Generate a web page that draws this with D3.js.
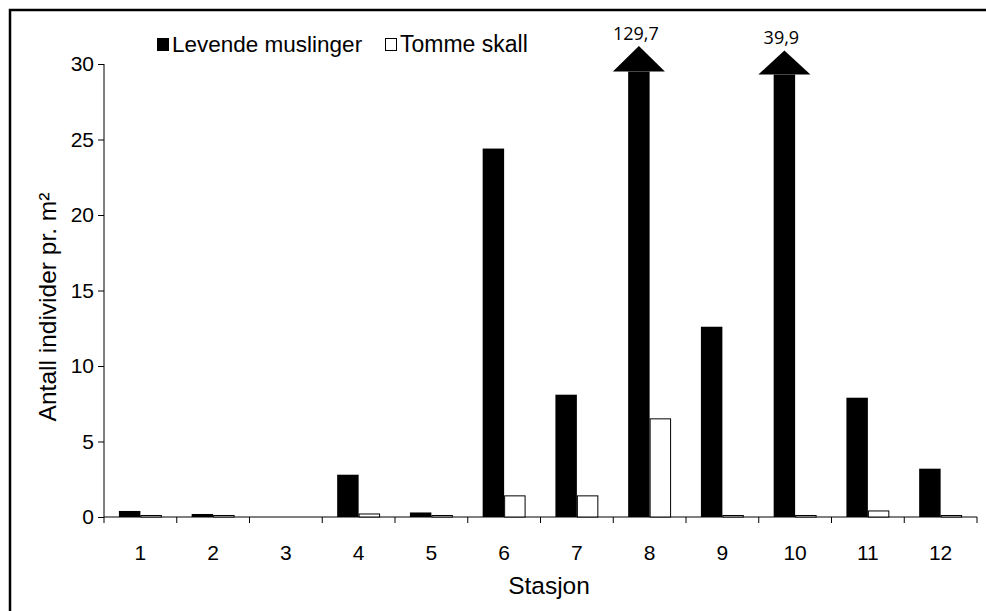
<!DOCTYPE html>
<html>
<head>
<meta charset="utf-8">
<script src="https://cdn.jsdelivr.net/npm/d3@7"></script>
<style>
  html, body { margin: 0; padding: 0; background: #fff; }
  svg { display: block; }
  .axis text { font-family: "Liberation Sans", Arial, sans-serif; font-size: 21px; fill: #000; }
  .axis path, .axis line { stroke: #000; stroke-width: 1px; }
</style>
</head>
<body>
<svg id="chart" width="986" height="611"></svg>
<script>
// ---- data ----
const stations = ["1","2","3","4","5","6","7","8","9","10","11","12"];
const levende = [0.4, 0.2, 0, 2.8, 0.3, 24.4, 8.1, 129.7, 12.6, 39.9, 7.9, 3.2];
const tomme   = [0.1, 0.1, 0, 0.2, 0.1, 1.4, 1.4, 6.5, 0.1, 0.1, 0.4, 0.1];
const seriesNames = ["Levende muslinger", "Tomme skall"];
const yTicks = [0, 5, 10, 15, 20, 25, 30];
const yMax = 30;
// arrow head (data units) for values beyond the axis
const arrowBase = [29.5, 29.3];
const arrowTip  = [31.2, 30.9];

const svg = d3.select("#chart");
const W = 986, H = 611;
const m = { left: 104, right: 9, top: 64, bottom: 94 };

// outer frame
svg.append("rect")
  .attr("x", 10).attr("y", 10).attr("width", 1000).attr("height", 700)
  .attr("fill", "none").attr("stroke", "#000").attr("stroke-width", 2.5);

const x0 = d3.scaleBand().domain(stations)
  .range([m.left, W - m.right]).paddingInner(0.41).paddingOuter(0.205);
const x1 = d3.scaleBand().domain([0, 1]).range([0, x0.bandwidth()]).padding(0);
const y = d3.scaleLinear().domain([0, yMax]).range([H - m.bottom, m.top]);

// y axis
const yAxis = svg.append("g").attr("class", "axis")
  .attr("transform", `translate(${m.left},0)`)
  .call(d3.axisLeft(y).tickValues(yTicks).tickSize(6).tickPadding(4).tickFormat(d3.format("d")));
yAxis.select(".domain").attr("d", `M0,${y(yMax)}V${y(0)}`);

// x axis with ticks at band boundaries
const xAxisG = svg.append("g").attr("class", "axis")
  .attr("transform", `translate(0,${y(0)})`);
xAxisG.append("line").attr("x1", x0.range()[0]).attr("x2", x0.range()[1])
  .attr("y1", 0).attr("y2", 0).attr("stroke", "#000");
const bounds = stations.map(s => x0(s) - x0.step() * x0.paddingOuter()).concat([x0.range()[1]]);
xAxisG.selectAll(".tk").data(bounds).enter().append("line")
  .attr("x1", d => d).attr("x2", d => d).attr("y1", 0).attr("y2", 6).attr("stroke", "#000");
xAxisG.selectAll(".lbl").data(stations).enter().append("text")
  .attr("x", d => x0(d) + x0.bandwidth() / 2).attr("y", 28).attr("dy", "0.71em")
  .attr("text-anchor", "middle").text(d => d);

// bars
const groups = svg.append("g");
let arrowIdx = 0;
stations.forEach((s, i) => {
  const v = levende[i];
  const bx = x0(s) + x1(0), bw = x1.bandwidth();
  if (v > yMax) {
    const k = arrowIdx++;
    const yb = y(arrowBase[k]), yt = y(arrowTip[k]);
    const cx = bx + bw / 2, hw = 26;
    groups.append("rect").attr("x", bx).attr("y", yb).attr("width", bw).attr("height", y(0) - yb).attr("fill", "#000");
    groups.append("path").attr("d", `M${cx - hw},${yb}L${cx},${yt}L${cx + hw},${yb}Z`).attr("fill", "#000");
    svg.append("text").attr("x", cx - 3).attr("y", yt - 6)
      .attr("text-anchor", "middle")
      .style("font-family", "'Open Sans', 'Noto Sans', sans-serif").style("font-size", "18px")
      .text(d3.format(".1f")(v).replace(".", ","));
  } else if (v > 0) {
    groups.append("rect").attr("x", bx).attr("y", y(v)).attr("width", bw).attr("height", y(0) - y(v)).attr("fill", "#000");
  }
  const t = tomme[i];
  if (t > 0) {
    const tx = x0(s) + x1(1);
    groups.append("rect").attr("x", tx + 0.5).attr("y", y(t)).attr("width", x1.bandwidth() - 1).attr("height", y(0) - y(t))
      .attr("fill", "#fff").attr("stroke", "#000").attr("stroke-width", 1);
  }
});

// y axis title
svg.append("text")
  .attr("transform", `translate(56,307) rotate(-90)`)
  .attr("text-anchor", "middle")
  .style("font-family", "'Liberation Sans', Arial, sans-serif").style("font-size", "24.5px")
  .text("Antall individer pr. m²");

// x axis title
svg.append("text")
  .attr("x", 549).attr("y", 594)
  .attr("text-anchor", "middle")
  .style("font-family", "'Liberation Sans', Arial, sans-serif").style("font-size", "24.5px")
  .text("Stasjon");

// legend
const legend = svg.append("g");
const legX = [157, 385];
const legFont = ["22.5px", "23px"];
seriesNames.forEach((n, i) => {
  legend.append("rect").attr("x", legX[i] + 0.5).attr("y", 38.5).attr("width", 11).attr("height", 12)
    .attr("fill", i === 0 ? "#000" : "#fff").attr("stroke", "#000").attr("stroke-width", 1);
  legend.append("text").attr("x", legX[i] + 15).attr("y", 52)
    .style("font-family", "'Liberation Sans', Arial, sans-serif").style("font-size", legFont[i])
    .text(n);
});
</script>
</body>
</html>
